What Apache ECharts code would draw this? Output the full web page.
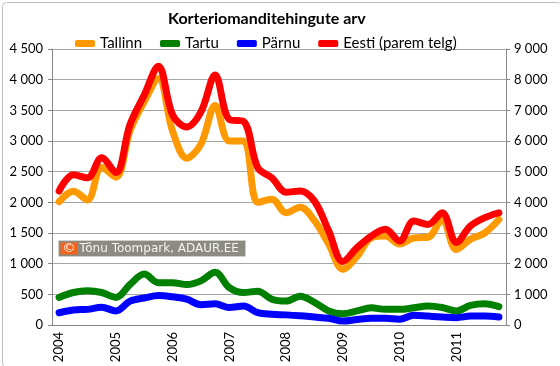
<!DOCTYPE html>
<html>
<head>
<meta charset="utf-8">
<script src="https://cdn.jsdelivr.net/npm/echarts@6/dist/echarts.min.js"></script>
<style>
html,body{margin:0;padding:0;background:#fff;}
#c{width:560px;height:366px;}
</style>
</head>
<body>
<div id="c"></div>
<script>
var quarters = [
  '2004 I','2004 II','2004 III','2004 IV',
  '2005 I','2005 II','2005 III','2005 IV',
  '2006 I','2006 II','2006 III','2006 IV',
  '2007 I','2007 II','2007 III','2007 IV',
  '2008 I','2008 II','2008 III','2008 IV',
  '2009 I','2009 II','2009 III','2009 IV',
  '2010 I','2010 II','2010 III','2010 IV',
  '2011 I','2011 II','2011 III','2011 IV'
];
var tallinn = [2010,2180,2040,2570,2410,3170,3640,4020,
               3160,2720,2950,3580,3000,3000,2000,2050,
               1830,1920,1700,1320,910,1120,1420,1450,
               1320,1420,1430,1720,1230,1400,1500,1720];
var tartu = [450,530,560,530,450,660,830,690,
             690,660,720,860,610,530,550,420,
             390,470,370,230,185,230,280,255,
             255,280,310,285,230,320,345,300];
var parnu = [200,245,255,290,230,390,440,480,
             460,420,330,345,285,310,200,175,
             165,150,130,110,65,90,110,110,
             95,160,145,130,120,145,145,130];
var eesti = [4370,4900,4800,5450,4970,6540,7500,8440,
             6850,6460,6950,8150,6700,6640,5130,4800,
             4330,4370,4040,3070,2070,2520,2900,3120,
             2740,3390,3280,3660,2690,3230,3500,3660];
var leftTicks = {min:0, max:4500, interval:500};
var rightTicks = {min:0, max:9000, interval:1000};

function fmt(v){ return String(v).replace(/\B(?=(\d{3})+(?!\d))/g,' '); }

var chart = echarts.init(document.getElementById('c'));
var font = 'Lato, "Open Sans", sans-serif';
var gridC = '#a6a6a6';
function lineSeries(name, data, color, axis){
  return {name:name, type:'line', data:data, smooth:0.35, showSymbol:false, yAxisIndex:axis,
    itemStyle:{color:color}, lineStyle:{width:7, color:color, cap:'round', join:'round'}};
}
chart.setOption({
  animation:false,
  textStyle:{fontFamily:font},
  title:{
    text:'Korteriomanditehingute arv',
    left:163, top:6,
    textStyle:{fontFamily:font, fontSize:16, fontWeight:'bold', color:'#000'}
  },
  legend:{
    left:70, top:31,
    itemWidth:20, itemHeight:7, itemGap:18,
    icon:'roundRect',
    textStyle:{fontFamily:font, fontSize:15, color:'#000'},
    data:['Tallinn','Tartu','Pärnu','Eesti (parem telg)']
  },
  grid:{left:52, right:54, top:49, bottom:41},
  xAxis:{
    type:'category', data:quarters, boundaryGap:true,
    axisLine:{lineStyle:{color:'#868686'}},
    axisTick:{interval:0, length:5, lineStyle:{color:'#868686'}},
    axisLabel:{interval:3, rotate:90, margin:7, fontSize:13, color:'#000',
      formatter:function(v){return v.split(' ')[0];}},
    splitLine:{show:false}
  },
  yAxis:[{
    type:'value', min:leftTicks.min, max:leftTicks.max, interval:leftTicks.interval,
    axisLine:{show:true, lineStyle:{color:'#868686'}},
    axisTick:{show:true, length:4, lineStyle:{color:'#868686'}},
    axisLabel:{fontSize:13, color:'#000', margin:9, formatter:fmt},
    splitLine:{lineStyle:{color:gridC}}
  },{
    type:'value', min:rightTicks.min, max:rightTicks.max, interval:rightTicks.interval,
    axisLine:{show:true, lineStyle:{color:'#868686'}},
    axisTick:{show:true, length:4, lineStyle:{color:'#868686'}},
    axisLabel:{fontSize:13, color:'#000', margin:8, formatter:fmt},
    splitLine:{show:false}
  }],
  series:[
    lineSeries('Tallinn', tallinn, '#FF9900', 0),
    lineSeries('Tartu', tartu, '#008000', 0),
    lineSeries('Pärnu', parnu, '#0000FF', 0),
    lineSeries('Eesti (parem telg)', eesti, '#FF0000', 1)
  ],
  graphic:[
    {type:'rect', left:0, top:0, shape:{width:559, height:365, r:4},
     style:{fill:'none', stroke:'#bfbfbf', lineWidth:1}, silent:true, z:100},
    {type:'group', left:58, top:240, z:50, children:[
      {type:'rect', shape:{x:0, y:0, width:187, height:16},
       style:{fill:'#8c8b82', stroke:'#d0d0c8', lineWidth:1}},
      {type:'rect', shape:{x:2, y:2, width:17, height:12},
       style:{fill:'#f0641e'}},
      {type:'text', x:10.5, y:8, style:{text:'©', fill:'#fff', font:'13px "DejaVu Sans"', align:'center', verticalAlign:'middle'}},
      {type:'text', x:21, y:8.5, style:{text:'Tõnu Toompark, ADAUR.EE', fill:'#f4f4f0', font:'12px "DejaVu Sans"', verticalAlign:'middle'}}
    ]}
  ]
});
</script>
</body>
</html>
